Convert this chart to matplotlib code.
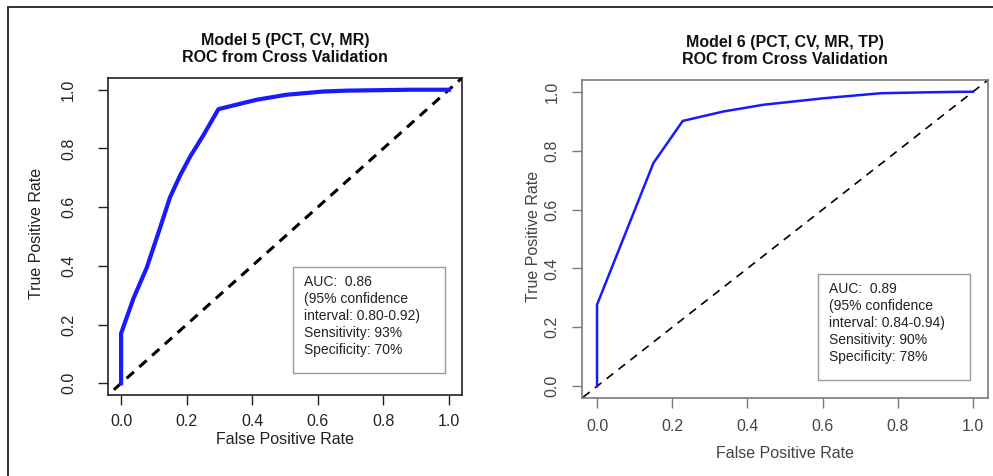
import matplotlib
matplotlib.use("Agg")
import matplotlib.pyplot as plt
from matplotlib.patches import Rectangle
import numpy as np

plt.rcParams['font.family'] = ['Liberation Sans', 'DejaVu Sans']

# ---- data ----
m5_fpr = [0.0, 0.0, 0.038, 0.078, 0.119, 0.149, 0.18, 0.21, 0.251, 0.297, 0.414, 0.505, 0.617, 0.69, 0.881, 1.0]
m5_tpr = [0.0, 0.17, 0.29, 0.393, 0.53, 0.633, 0.708, 0.771, 0.845, 0.934, 0.966, 0.983, 0.994, 0.997, 1.0, 1.0]
m6_fpr = [0.0, 0.0, 0.150, 0.228, 0.336, 0.443, 0.603, 0.754, 0.87, 0.975, 1.0]
m6_tpr = [0.0, 0.277, 0.758, 0.901, 0.933, 0.956, 0.978, 0.995, 0.998, 1.0, 1.0]
ticks = [0.0, 0.2, 0.4, 0.6, 0.8, 1.0]
tick_labels = ["0.0", "0.2", "0.4", "0.6", "0.8", "1.0"]
titles = ["Model 5 (PCT, CV, MR)\nROC from Cross Validation",
          "Model 6 (PCT, CV, MR, TP)\nROC from Cross Validation"]
notes = ["AUC:  0.86\n(95% confidence\ninterval: 0.80-0.92)\nSensitivity: 93%\nSpecificity: 70%",
         "AUC:  0.89\n(95% confidence\ninterval: 0.84-0.94)\nSensitivity: 90%\nSpecificity: 78%"]

W, H = 993, 476
fig = plt.figure(figsize=(W / 100, H / 100), dpi=100)

def fx(px):
    return px / W

def fy(py):
    return 1 - py / H

# outer frame
fig.add_artist(Rectangle((fx(8), -0.1), 1.2, fy(7) + 0.1, transform=fig.transFigure,
                         fill=False, edgecolor='#222222', linewidth=1.3))

panels = [
    dict(box=(108, 78, 462, 395), fpr=m5_fpr, tpr=m5_tpr, lw=3.0, dlw=2.2, dash=(3.2, 2.4),
         frame='#222222', tickc='#222222', ypad=16, xpad=7, title_x=285, title_y=(40, 58),
         ylab_x=37, xlab_y=440, note_box=(293, 267, 445, 373), note_xy=(304, 275)),
    dict(box=(582, 80, 988, 398), fpr=m6_fpr, tpr=m6_tpr, lw=1.8, dlw=1.2, dash=(5, 4),
         frame='#7a7a7a', tickc='#444444', ypad=9, xpad=8, title_x=785, title_y=(42, 60),
         ylab_x=533, xlab_y=453, note_box=(818, 274, 970, 380), note_xy=(829, 282)),
]

for i, p in enumerate(panels):
    x0, y0, x1, y1 = p['box']
    ax = fig.add_axes([fx(x0), fy(y1), fx(x1) - fx(x0), fy(y0) - fy(y1)])
    ax.set_xlim(-0.04, 1.04)
    ax.set_ylim(-0.04, 1.04)
    ax.plot([-0.1, 1.1], [-0.1, 1.1], color='black', linewidth=p['dlw'],
            linestyle=(0, p['dash']))
    ax.plot(p['fpr'], p['tpr'], color='#1a1aff', linewidth=p['lw'], solid_joinstyle='round')
    for s in ax.spines.values():
        s.set_color(p['frame'])
        s.set_linewidth(1.2)
    ax.set_xticks(ticks)
    ax.set_xticklabels(tick_labels)
    ax.set_yticks(ticks)
    ax.set_yticklabels(tick_labels, rotation=90, va='center')
    ax.tick_params(axis='both', length=7, width=1.0, color=p['frame'],
                   labelsize=11.5, labelcolor=p['tickc'])
    ax.tick_params(axis='y', pad=p['ypad'])
    ax.tick_params(axis='x', pad=p['xpad'])
    # titles
    line1, line2 = titles[i].split("\n")
    fig.text(fx(p['title_x']), fy(p['title_y'][0]), line1, ha='center', va='center',
             fontsize=11.5, fontweight='bold', color='#111111')
    fig.text(fx(p['title_x']), fy(p['title_y'][1]), line2, ha='center', va='center',
             fontsize=11.5, fontweight='bold', color='#111111')
    # axis labels
    fig.text(fx(p['ylab_x']), fy((y0 + y1) / 2 - 3), "True Positive Rate", rotation=90,
             ha='center', va='center', fontsize=11.5, color=p['tickc'])
    fig.text(fx((x0 + x1) / 2), fy(p['xlab_y']), "False Positive Rate",
             ha='center', va='center', fontsize=11.5, color=p['tickc'])
    # note box
    bx0, by0, bx1, by1 = p['note_box']
    fig.add_artist(Rectangle((fx(bx0), fy(by1)), fx(bx1) - fx(bx0), fy(by0) - fy(by1),
                             transform=fig.transFigure, fill=True, facecolor='white',
                             edgecolor='#9a9a9a', linewidth=1.0, zorder=5))
    fig.text(fx(p['note_xy'][0]), fy(p['note_xy'][1]), notes[i], ha='left', va='top',
             fontsize=10, linespacing=1.27, color='#222222', zorder=6)

fig.savefig("out.png", dpi=100)
